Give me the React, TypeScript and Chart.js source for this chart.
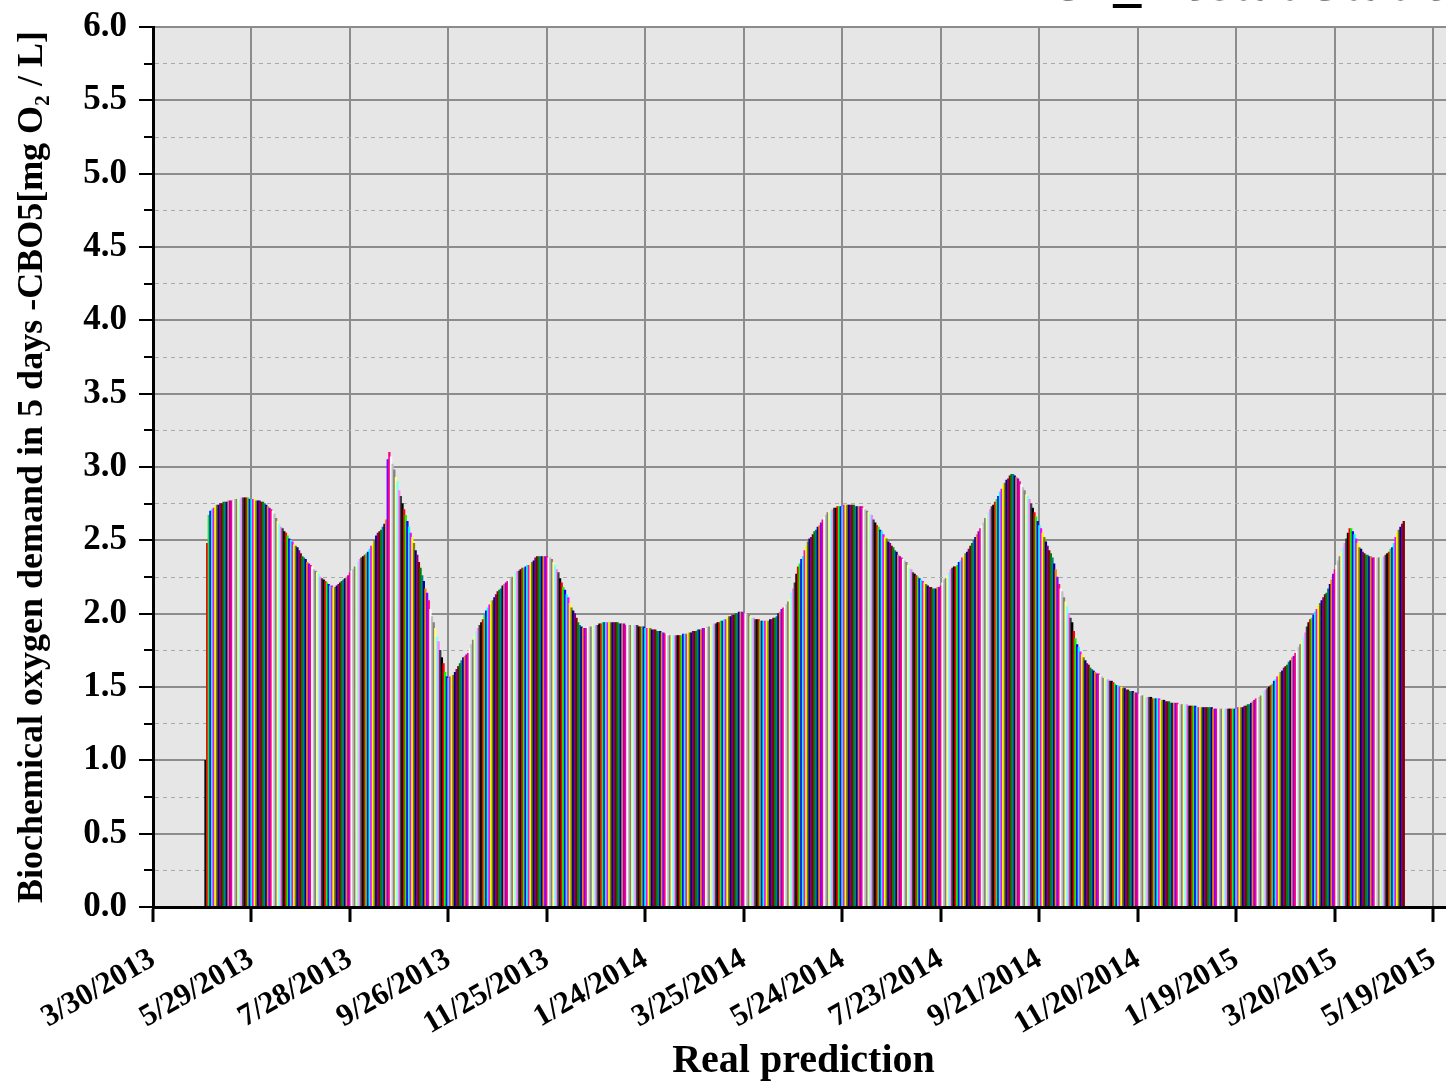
import React, { useEffect, useRef } from 'react';
import { Chart, registerables } from 'chart.js';

Chart.register(...registerables);

// x axis: days counted from 3/30/2013
const xTickDays = [0, 60, 120, 180, 240, 300, 360, 420, 480, 540, 600, 660, 720, 780];
const xTickLabels = [
  '3/30/2013', '5/29/2013', '7/28/2013', '9/26/2013', '11/25/2013', '1/24/2014', '3/25/2014',
  '5/24/2014', '7/23/2014', '9/21/2014', '11/20/2014', '1/19/2015', '3/20/2015', '5/19/2015',
];
const yMajorTicks = [0, 0.5, 1, 1.5, 2, 2.5, 3, 3.5, 4, 4.5, 5, 5.5, 6];
const yMinorTicks = [0.25, 0.75, 1.25, 1.75, 2.25, 2.75, 3.25, 3.75, 4.25, 4.75, 5.25, 5.75];

// first bar = 5/1/2013 (day 32 after 3/30/2013), one bar per day
const firstDataDay = 32;

// daily BOD5 values, 5/1/2013 ...
const bodSeg1 = [
  1.00, 2.48, 2.67, 2.70, 2.71, 2.72, 2.73, 2.74, 2.74, 2.75, 2.75, 2.76, 2.76, 2.76, 2.77, 2.77, 2.77, 2.77, 2.78, 2.78,
  2.78, 2.78, 2.79, 2.79, 2.79, 2.79, 2.79, 2.78, 2.78, 2.78, 2.78, 2.77, 2.77, 2.77, 2.76, 2.76, 2.75, 2.74, 2.73, 2.72,
  2.71, 2.70, 2.68, 2.65, 2.63, 2.61, 2.59, 2.58, 2.56, 2.55, 2.53, 2.51, 2.50, 2.49, 2.47, 2.46, 2.45, 2.43, 2.41, 2.39,
  2.38, 2.37, 2.35, 2.34, 2.33, 2.32, 2.30, 2.29, 2.28, 2.27, 2.25, 2.24, 2.23, 2.22, 2.21, 2.20, 2.19, 2.19, 2.18, 2.18,
  2.19, 2.20, 2.21, 2.22, 2.23, 2.24, 2.25, 2.26, 2.28, 2.29, 2.30, 2.32, 2.33, 2.35, 2.37, 2.38, 2.39, 2.40, 2.41, 2.42,
  2.44, 2.46, 2.48, 2.50, 2.53, 2.55, 2.56, 2.57, 2.59, 2.61, 2.64, 3.05, 3.10, 3.07, 3.02, 2.98, 2.93, 2.90, 2.84, 2.80,
  2.75, 2.71, 2.67, 2.63, 2.59, 2.55, 2.52, 2.48, 2.43, 2.40, 2.35, 2.31, 2.26, 2.22, 2.17, 2.14, 2.09, 2.03, 1.98, 1.94,
  1.90, 1.84, 1.81, 1.75, 1.70, 1.66, 1.60, 1.57, 1.56, 1.57, 1.58, 1.58, 1.60, 1.62, 1.64, 1.66, 1.68, 1.70, 1.71, 1.72,
  1.73, 1.76, 1.79, 1.82, 1.85, 1.88, 1.90, 1.92, 1.94, 1.96, 1.99, 2.02, 2.04, 2.06, 2.08, 2.09, 2.11, 2.13, 2.15, 2.16,
  2.17, 2.19, 2.20, 2.21, 2.22, 2.23, 2.24, 2.25, 2.26, 2.28, 2.29, 2.29, 2.30, 2.31, 2.31, 2.32, 2.33, 2.33, 2.34, 2.35,
  2.36, 2.38, 2.39, 2.39, 2.39, 2.39, 2.39, 2.39, 2.39, 2.38, 2.38, 2.37, 2.35, 2.33, 2.30, 2.28, 2.24, 2.21, 2.18, 2.16,
  2.13, 2.11, 2.07, 2.04, 2.02, 2.00, 1.97, 1.94, 1.92, 1.91, 1.90, 1.90, 1.90, 1.91, 1.91, 1.91, 1.92, 1.92, 1.92, 1.92,
];
const bodSeg2 = [
  1.93, 1.93, 1.94, 1.94, 1.94, 1.94, 1.94, 1.94, 1.94, 1.94, 1.94, 1.94, 1.93, 1.93, 1.93, 1.93, 1.92, 1.92, 1.92, 1.92,
  1.92, 1.92, 1.92, 1.92, 1.91, 1.91, 1.91, 1.91, 1.90, 1.90, 1.90, 1.90, 1.89, 1.89, 1.89, 1.88, 1.88, 1.88, 1.87, 1.87,
  1.86, 1.86, 1.85, 1.85, 1.85, 1.85, 1.85, 1.85, 1.85, 1.85, 1.85, 1.86, 1.86, 1.86, 1.87, 1.87, 1.87, 1.88, 1.88, 1.88,
  1.89, 1.89, 1.89, 1.90, 1.90, 1.90, 1.91, 1.91, 1.92, 1.92, 1.93, 1.93, 1.94, 1.94, 1.95, 1.95, 1.96, 1.96, 1.97, 1.98,
  1.98, 1.99, 1.99, 2.00, 2.00, 2.01, 2.01, 2.01, 2.00, 2.00, 1.99, 1.99, 1.98, 1.97, 1.97, 1.96, 1.96, 1.96, 1.95, 1.95,
  1.95, 1.95, 1.95, 1.95, 1.96, 1.96, 1.97, 1.97, 1.98, 2.00, 2.01, 2.03, 2.04, 2.05, 2.06, 2.08, 2.10, 2.14, 2.17, 2.21,
  2.27, 2.32, 2.34, 2.37, 2.39, 2.43, 2.46, 2.49, 2.51, 2.52, 2.54, 2.56, 2.57, 2.59, 2.60, 2.62, 2.64, 2.66, 2.67, 2.69,
  2.70, 2.70, 2.71, 2.72, 2.72, 2.73, 2.73, 2.73, 2.73, 2.74, 2.74, 2.74, 2.74, 2.74, 2.74, 2.74, 2.73, 2.73, 2.73, 2.73,
  2.73, 2.72, 2.71, 2.70, 2.69, 2.68, 2.67, 2.64, 2.62, 2.60, 2.59, 2.57, 2.56, 2.54, 2.52, 2.51, 2.49, 2.48, 2.46, 2.45,
  2.43, 2.42, 2.40, 2.39, 2.38, 2.37, 2.36, 2.35, 2.33, 2.31, 2.30, 2.28, 2.27, 2.26, 2.25, 2.24, 2.23, 2.22, 2.21, 2.20,
  2.19, 2.18, 2.18, 2.17, 2.17, 2.17, 2.18, 2.18, 2.19, 2.21, 2.23, 2.24, 2.26, 2.28, 2.30, 2.31, 2.32, 2.32, 2.33, 2.35,
  2.36, 2.38, 2.39, 2.41, 2.42, 2.44, 2.46, 2.48, 2.50, 2.52, 2.54, 2.56, 2.58, 2.60, 2.62, 2.65, 2.67, 2.69, 2.71, 2.73,
];
const bodSeg3 = [
  2.74, 2.76, 2.78, 2.80, 2.83, 2.85, 2.88, 2.89, 2.91, 2.92, 2.94, 2.95, 2.95, 2.94, 2.93, 2.92, 2.90, 2.88, 2.86, 2.84,
  2.81, 2.80, 2.78, 2.75, 2.72, 2.69, 2.66, 2.63, 2.60, 2.58, 2.55, 2.52, 2.49, 2.46, 2.43, 2.41, 2.38, 2.34, 2.30, 2.25,
  2.20, 2.17, 2.15, 2.11, 2.08, 2.05, 2.00, 1.97, 1.94, 1.88, 1.83, 1.79, 1.77, 1.74, 1.72, 1.70, 1.68, 1.66, 1.65, 1.63,
  1.62, 1.61, 1.60, 1.59, 1.59, 1.58, 1.57, 1.56, 1.56, 1.55, 1.55, 1.54, 1.54, 1.53, 1.52, 1.51, 1.51, 1.50, 1.50, 1.49,
  1.49, 1.48, 1.48, 1.47, 1.47, 1.47, 1.46, 1.46, 1.45, 1.45, 1.44, 1.44, 1.44, 1.43, 1.43, 1.43, 1.43, 1.42, 1.42, 1.42,
  1.42, 1.42, 1.41, 1.41, 1.41, 1.40, 1.40, 1.40, 1.39, 1.39, 1.39, 1.39, 1.39, 1.38, 1.38, 1.38, 1.38, 1.38, 1.38, 1.37,
  1.37, 1.37, 1.37, 1.37, 1.36, 1.36, 1.36, 1.36, 1.36, 1.36, 1.36, 1.36, 1.36, 1.36, 1.35, 1.35, 1.35, 1.35, 1.35, 1.35,
  1.35, 1.35, 1.35, 1.35, 1.35, 1.35, 1.35, 1.35, 1.35, 1.36, 1.36, 1.36, 1.36, 1.37, 1.37, 1.38, 1.38, 1.39, 1.40, 1.41,
  1.42, 1.42, 1.43, 1.44, 1.45, 1.47, 1.48, 1.49, 1.50, 1.51, 1.52, 1.54, 1.55, 1.57, 1.58, 1.60, 1.61, 1.63, 1.64, 1.65,
  1.67, 1.68, 1.70, 1.71, 1.73, 1.74, 1.77, 1.79, 1.82, 1.84, 1.87, 1.91, 1.94, 1.96, 1.97, 1.99, 2.01, 2.03, 2.05, 2.07,
  2.09, 2.11, 2.13, 2.14, 2.17, 2.20, 2.23, 2.27, 2.30, 2.33, 2.36, 2.39, 2.42, 2.45, 2.48, 2.51, 2.55, 2.58, 2.58, 2.56,
  2.54, 2.51, 2.48, 2.45, 2.44, 2.42, 2.41, 2.40, 2.40, 2.39, 2.39, 2.38, 2.38, 2.38, 2.38, 2.38, 2.38, 2.38, 2.39, 2.40,
  2.41, 2.42, 2.44, 2.45, 2.48, 2.52, 2.55, 2.57, 2.59, 2.61, 2.63,
];

// Origin-style colour increment list
const barPalette = [
  '#000000', '#FF0000', '#00FF00', '#0000FF', '#00FFFF', '#FF00FF', '#FFFF00', '#808000',
  '#000080', '#800080', '#800000', '#008000', '#008080', '#0000A0', '#FF8000', '#8000FF',
  '#FF0080', '#FFFFFF', '#C0C0C0', '#808080', '#FFFF80', '#80FFFF', '#FF80FF', '#404040',
];

const SERIF = "'Liberation Serif', 'Times New Roman', serif";

export default function App() {
  const ref = useRef<HTMLCanvasElement>(null);

  useEffect(() => {
    document.body.style.margin = '0';
    document.body.style.overflow = 'hidden';
    const values = [...bodSeg1, ...bodSeg2, ...bodSeg3];
    const points = values.map((v, i) => ({ x: firstDataDay + i, y: v }));
    const colors = values.map((_, i) => barPalette[i % barPalette.length]);
    const yAll = [...yMajorTicks, ...yMinorTicks].sort((a, b) => a - b);
    const isMajor = (v: number) => yMajorTicks.some((m) => Math.abs(m - v) < 1e-6);

    const bgPlugin = {
      id: 'plotBg',
      beforeDraw(chart: any) {
        const { ctx, chartArea: a } = chart;
        ctx.save();
        ctx.fillStyle = '#E6E6E6';
        ctx.fillRect(a.left, a.top, a.right - a.left, a.bottom - a.top);
        ctx.restore();
      },
    };
    const minorTickPlugin = {
      id: 'minorTicks',
      afterDraw(chart: any) {
        const ys = chart.scales.y;
        const ctx = chart.ctx;
        ctx.save();
        ctx.strokeStyle = '#000';
        ctx.lineWidth = 2;
        yMinorTicks.forEach((v) => {
          const py = Math.round(ys.getPixelForValue(v));
          ctx.beginPath();
          ctx.moveTo(ys.right - 9, py);
          ctx.lineTo(ys.right, py);
          ctx.stroke();
        });
        ctx.restore();
      },
    };

    const chart = new Chart(ref.current as HTMLCanvasElement, {
      type: 'bar',
      data: {
        datasets: [
          {
            data: points as any,
            backgroundColor: colors,
            borderWidth: 0,
            barPercentage: 1,
            categoryPercentage: 1,
          },
        ],
      },
      options: {
        animation: false,
        responsive: false,
        layout: { padding: { top: 27, left: 0, right: 0, bottom: 0 } },
        plugins: { legend: { display: false }, tooltip: { enabled: false } },
        scales: {
          x: {
            type: 'linear',
            min: 0,
            max: 792.6,
            offset: false,
            afterBuildTicks: (s: any) => {
              s.ticks = xTickDays.map((v) => ({ value: v }));
            },
            afterFit: (s: any) => {
              s.height = 177;
              s.paddingLeft = 0;
              s.paddingRight = 0;
            },
            ticks: {
              autoSkip: false,
              maxRotation: 30,
              minRotation: 30,
              padding: 19,
              color: '#000',
              font: { family: SERIF, size: 31, weight: 'bold' },
              callback: (v: any) => {
                const i = xTickDays.indexOf(Number(v));
                return i >= 0 ? xTickLabels[i] : '';
              },
            },
            grid: { offset: false, color: '#8C8C8C', lineWidth: 2, tickLength: 15, tickColor: '#000', tickWidth: 3 },
            border: { display: true, color: '#000', width: 3, z: 1 },
            title: {
              display: true,
              text: 'Real prediction',
              color: '#000',
              font: { family: SERIF, size: 40, weight: 'bold', lineHeight: 1.1 },
              padding: { top: 0, bottom: 0 },
            },
          } as any,
          y: {
            type: 'linear',
            min: 0,
            max: 6,
            afterBuildTicks: (s: any) => {
              s.ticks = yAll.map((v) => ({ value: v }));
            },
            afterFit: (s: any) => {
              s.width = 153;
              s.paddingTop = 0;
              s.paddingBottom = 0;
            },
            ticks: {
              autoSkip: false,
              padding: 12,
              color: '#000',
              font: { family: SERIF, size: 35, weight: 'bold' },
              callback: (v: any) => (isMajor(Number(v)) ? Number(v).toFixed(1) : ''),
            },
            grid: {
              color: (c: any) => (c.tick && isMajor(c.tick.value) ? '#8C8C8C' : '#A9A9A9'),
              lineWidth: (c: any) => (c.tick && isMajor(c.tick.value) ? 2 : 1),
              tickLength: 14,
              tickWidth: 2,
              tickColor: (c: any) => (c.tick && isMajor(c.tick.value) ? '#000' : 'rgba(0,0,0,0)'),
            },
            border: {
              display: true,
              color: '#000',
              width: 3,
              z: 1,
              dash: (c: any) => (c.tick && !isMajor(c.tick.value) ? [4, 4] : []),
            },
            title: {
              display: true,
              text: 'Biochemical oxygen demand in 5 days -CBO5[mg O\u2082 / L]',
              color: '#000',
              font: { family: SERIF, size: 36, weight: 'bold' },
              padding: { top: 11, bottom: 0 },
            },
          } as any,
        },
      },
      plugins: [bgPlugin, minorTickPlugin],
    });
    return () => chart.destroy();
  }, []);

  return (
    <div style={{ position: 'relative', width: 1446, height: 1084, overflow: 'hidden', background: '#fff' }}>
      <canvas ref={ref} width={1454} height={1084} style={{ display: 'block', width: 1454, height: 1084 }} />
      <div
        style={{
          position: 'absolute',
          left: 1054,
          top: -47,
          fontFamily: SERIF,
          fontWeight: 'bold',
          fontSize: 56,
          lineHeight: '56px',
          whiteSpace: 'nowrap',
          color: '#000',
        }}
      >
        S1_Dostat Station
      </div>
    </div>
  );
}
